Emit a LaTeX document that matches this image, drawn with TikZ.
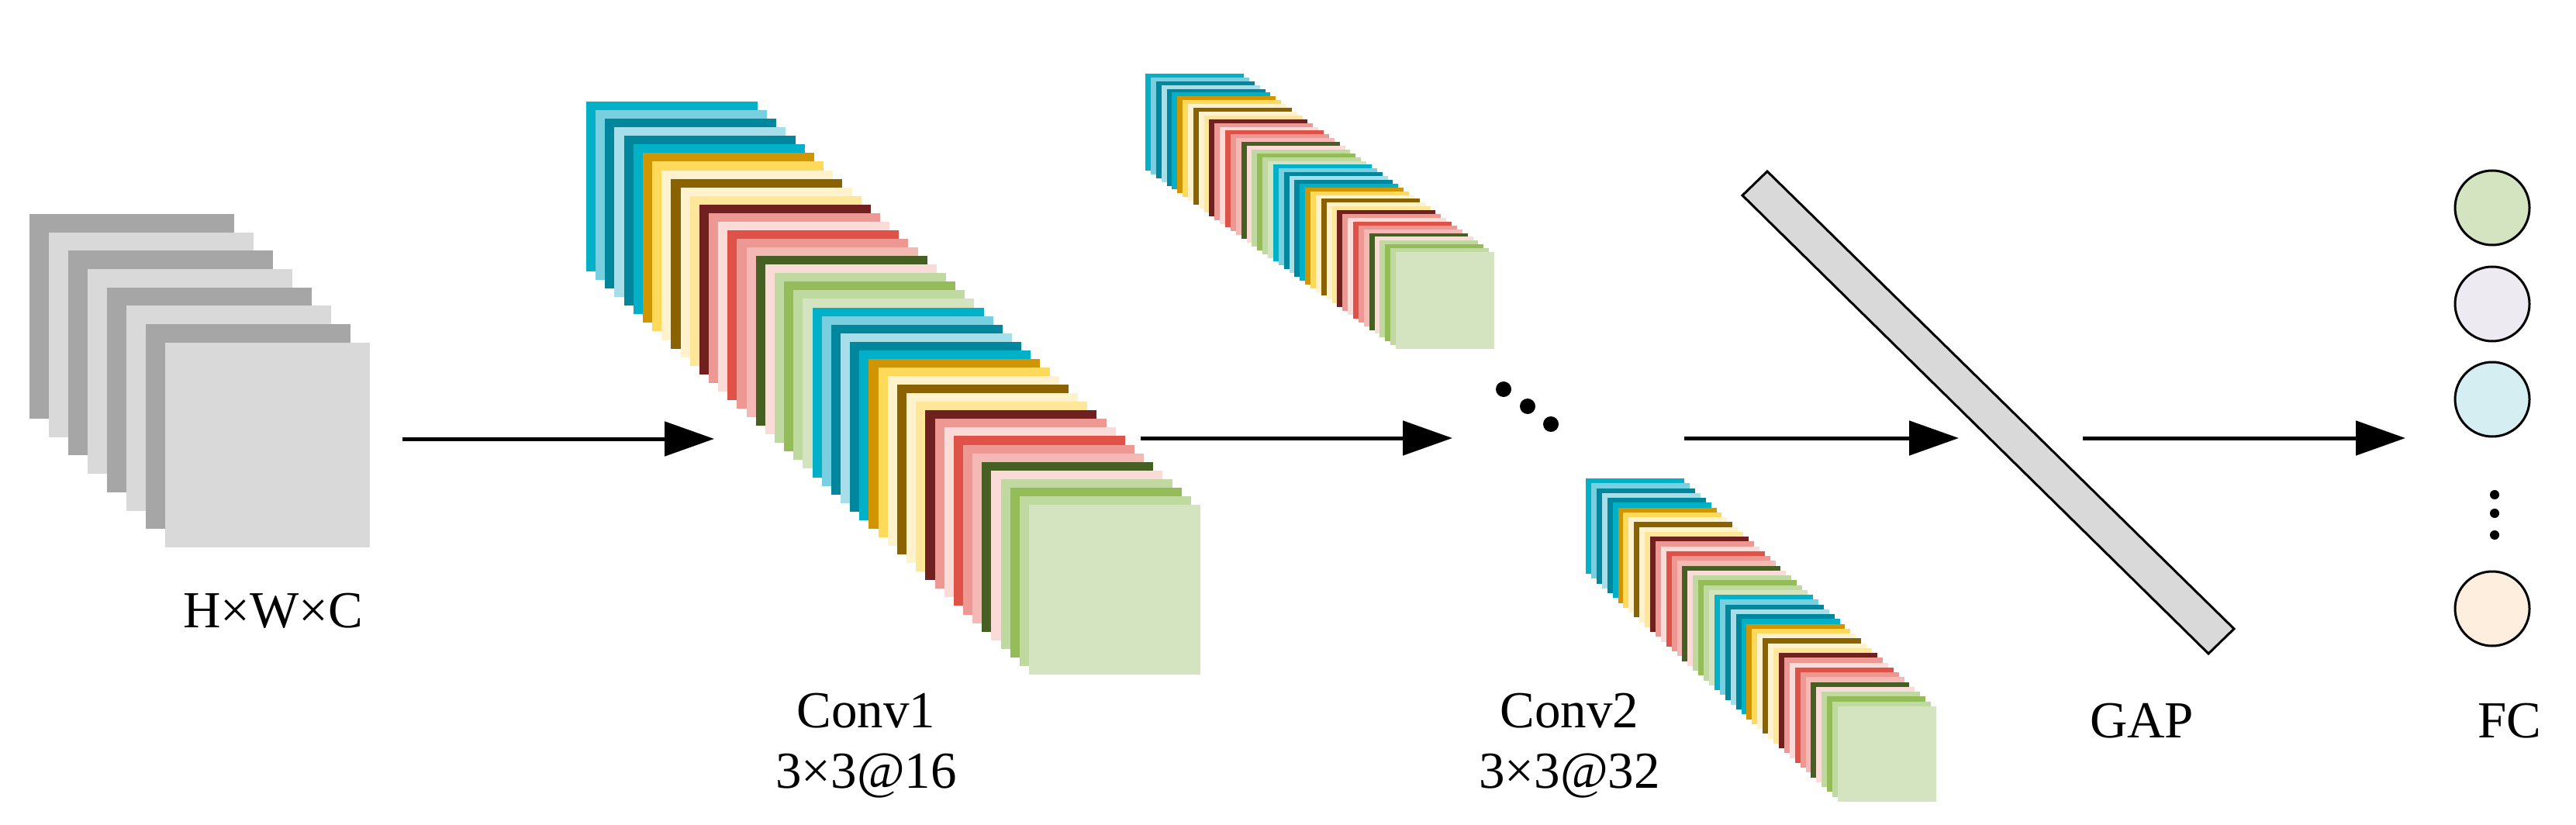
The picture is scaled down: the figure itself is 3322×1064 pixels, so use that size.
\documentclass[tikz,border=0pt]{standalone}
\usepackage{fontspec}
\setmainfont{Liberation Serif}
\usetikzlibrary{arrows.meta}
\definecolor{c1}{HTML}{02B0C8}\definecolor{c2}{HTML}{78CFDF}\definecolor{c3}{HTML}{00879E}
\definecolor{c4}{HTML}{A6DEE9}\definecolor{c5}{HTML}{00879E}\definecolor{c6}{HTML}{02B0C8}
\definecolor{c7}{HTML}{D09500}\definecolor{c8}{HTML}{FFD95A}\definecolor{c9}{HTML}{FFF2CC}
\definecolor{c10}{HTML}{8B6200}\definecolor{c11}{HTML}{FFF2CC}\definecolor{c12}{HTML}{FFE699}
\definecolor{c13}{HTML}{70201E}\definecolor{c14}{HTML}{EE9893}\definecolor{c15}{HTML}{FADBD8}
\definecolor{c16}{HTML}{DF5248}\definecolor{c17}{HTML}{EE9893}\definecolor{c18}{HTML}{F4B9B4}
\definecolor{c19}{HTML}{466024}\definecolor{c20}{HTML}{FADBD8}\definecolor{c21}{HTML}{C0D9A0}
\definecolor{c22}{HTML}{94BD5A}\definecolor{c23}{HTML}{C0D9A0}\definecolor{c24}{HTML}{D5E4C0}
\definecolor{gdark}{HTML}{A6A6A6}\definecolor{glight}{HTML}{D9D9D9}
% #1,#2 first top-left; #3,#4 last top-left; #5 w; #6 h
\newcommand\cnnstack[6]{%
  \foreach \i in {0,...,47}{%
    \pgfmathtruncatemacro\k{mod(\i,24)+1}%
    \pgfmathsetmacro\xx{#1+(#3-#1)/47*\i}%
    \pgfmathsetmacro\yy{#2+(#4-#2)/47*\i}%
    \fill[c\k] (\xx,\yy) rectangle ++(#5,#6);
  }}
\tikzset{
  lbl/.style={font=\fontsize{67}{78}\selectfont, align=center, inner sep=0pt},
  arr/.style={line width=5pt, -{Triangle[length=64pt,width=44pt]}},
  fc/.style={circle, draw=black, line width=3pt, minimum size=96pt, inner sep=0pt},
  dot/.style={circle, fill=black, minimum size=#1, inner sep=0pt},
}
\begin{document}
\begin{tikzpicture}[x=1pt,y=-1pt]
\useasboundingbox (0,0) rectangle (3322,1064);
% input stack
\foreach \i in {0,...,7}{
  \pgfmathsetmacro\xx{38+25*\i}
  \pgfmathsetmacro\yy{276+23.7*\i}
  \pgfmathtruncatemacro\odd{mod(\i,2)}
  \ifnum\odd=0 \fill[gdark] (\xx,\yy) rectangle ++(264,264);
  \else \fill[glight] (\xx,\yy) rectangle ++(264,264); \fi
}
\node[lbl] (in) at (352,788) {H×W×C};
% conv1
\cnnstack{756}{131}{1327}{651}{221}{219}
\node[lbl] (c1l) at (1117,962) {Conv1\\3×3@16};
% conv2 upper
\cnnstack{1477}{95}{1800}{325}{127}{125}
% conv2 lower
\cnnstack{2045}{617}{2370}{911}{127}{123}
\node[lbl] (c2l) at (2024,962) {Conv2\\3×3@32};
% ellipsis
\node[dot=20pt] (e1) at (1939,502) {};
\node[dot=20pt] (e2) at (1970,524) {};
\node[dot=20pt] (e3) at (2000,547) {};
% GAP bar
\draw[line width=3pt, fill=glight, line join=miter] (2279,221) -- (2247,252) -- (2848,843) -- (2881,811) -- cycle;
\node[lbl] (gap) at (2762,930) {GAP};
% FC
\node[fc, fill=c24] (f1) at (3214,268) {};
\node[fc, fill={rgb,255:red,238;green,234;blue,242}] (f2) at (3214,392) {};
\node[fc, fill={rgb,255:red,213;green,238;blue,242}] (f3) at (3214,515) {};
\node[fc, fill={rgb,255:red,253;green,238;blue,222}] (f4) at (3214,785) {};
\node[dot=12pt] (d1) at (3217,638) {};
\node[dot=12pt] (d2) at (3217,662) {};
\node[dot=12pt] (d3) at (3217,690) {};
\node[lbl] (fcl) at (3236,930) {FC};
% arrows
\coordinate (a1s) at (519,566); \coordinate (a1e) at (921,566);
\coordinate (a2s) at (1471,565); \coordinate (a2e) at (1873,565);
\coordinate (a3s) at (2172,565); \coordinate (a3e) at (2526,565);
\coordinate (a4s) at (2686,565); \coordinate (a4e) at (3102,565);
\draw[arr] (a1s) -- (a1e);
\draw[arr] (a2s) -- (a2e);
\draw[arr] (a3s) -- (a3e);
\draw[arr] (a4s) -- (a4e);
\end{tikzpicture}
\end{document}
